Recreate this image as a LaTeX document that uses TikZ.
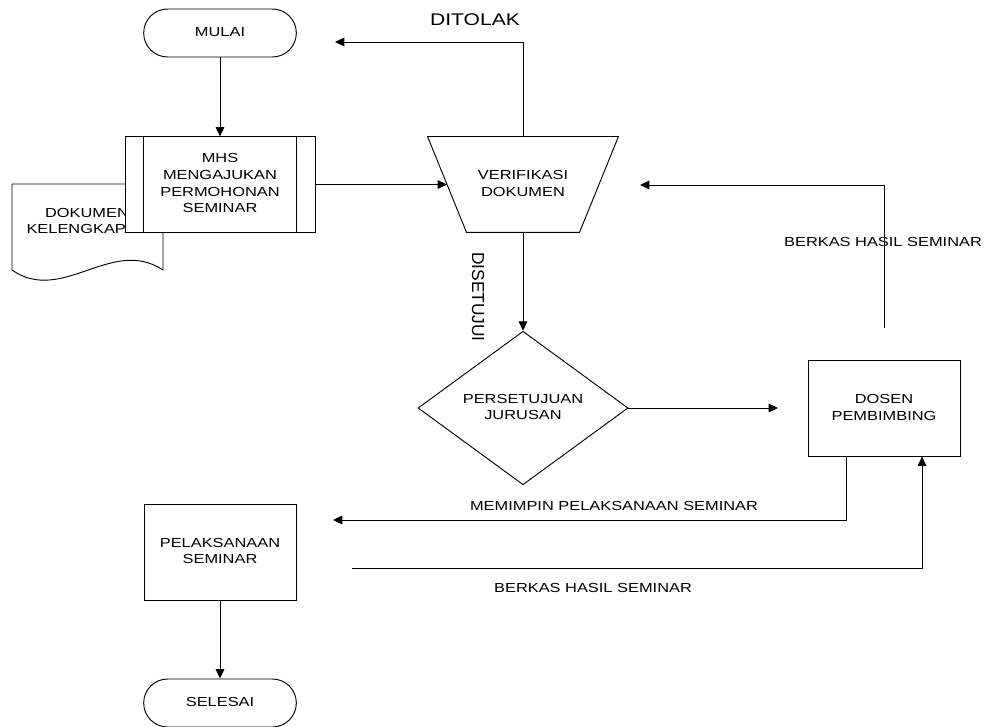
\documentclass[tikz,border=0pt]{standalone}
\usepackage{fontspec}
\usepackage{graphicx}
\setmainfont{Liberation Sans}
\usetikzlibrary{shapes.geometric,shapes.misc,arrows.meta}
\newcommand\lbl[1]{\scalebox{1}[0.8]{\begin{tabular}{@{}c@{}}#1\end{tabular}}}
\begin{document}
\begin{tikzpicture}[x=0.75pt,y=-0.75pt,
  font=\fontsize{12.3}{15.6}\selectfont,
  line width=0.7pt,
  arr/.style={-{Triangle[length=7pt,width=6.5pt]}},
  term/.style={rounded rectangle,draw,fill=white,inner sep=0pt,minimum width=114.5pt,minimum height=36pt},
  procbox/.style={rectangle,draw,fill=white,inner sep=0pt,minimum width=114pt,minimum height=71.5pt},
  plain/.style={inner sep=0pt}]
\useasboundingbox (0,0) rectangle (988,727);

% document shape (behind the MHS box)
\draw[fill=white] (12,270) -- (12,184) -- (163,184) -- (163,270)
  .. controls (112,236) and (62,305) .. (12,270) -- cycle;
\node[plain] (doc) at (87,222) {\lbl{DOKUMEN\\KELENGKAPAN}};

% nodes
\node[term] (mulai) at (220,33) {\lbl{MULAI}};
\node[procbox,minimum width=142.5pt] (mhs) at (220,184.5) {\lbl{MHS\\MENGAJUKAN\\PERMOHONAN\\SEMINAR}};
\draw ([xshift=14.25pt]mhs.north west) -- ([xshift=14.25pt]mhs.south west);
\draw ([xshift=-14.25pt]mhs.north east) -- ([xshift=-14.25pt]mhs.south east);

\node[plain,minimum width=142.5pt,minimum height=71.25pt] (verif) at (523,184.5) {};
\draw (verif.north west) -- (verif.north east) -- ([xshift=-29.25pt]verif.south east)
  -- ([xshift=29.25pt]verif.south west) -- cycle;
\node[plain] (veriftext) at (verif.center) {\lbl{VERIFIKASI\\DOKUMEN}};

\node[diamond,draw,fill=white,inner sep=0pt,minimum width=157.5pt,minimum height=90pt] (setuju) at (523,408) {\lbl{PERSETUJUAN\\JURUSAN}};

\node[procbox] (dosen) at (884,408.5) {\lbl{DOSEN\\PEMBIMBING}};
\node[procbox,minimum height=72pt] (pelaks) at (220,552) {\lbl{PELAKSANAAN\\SEMINAR}};
\node[term] (selesai) at (220,703) {\lbl{SELESAI}};

% free ends
\coordinate (ditolakEnd) at (335,42);
\coordinate (toDosen) at (778,408);
\coordinate (berkasStart) at (884,328);
\coordinate (berkasEnd) at (640,185);
\coordinate (memimpinEnd) at (333,520);
\coordinate (berkas2Start) at (352,568);

% connectors
\draw[arr] (mulai.south) -- (mhs.north);
\draw[arr] (mhs.east) -- ([xshift=14.6pt]verif.west);
\draw[arr] (verif.north) |- (ditolakEnd);
\draw[arr] (verif.south) -- (setuju.north);
\draw[arr] (setuju.east) -- (toDosen);
\draw[arr] (berkasStart) |- (berkasEnd);
\draw[arr] ([xshift=-28.5pt]dosen.south) |- (memimpinEnd);
\draw[arr] (berkas2Start) -| ([xshift=28.5pt]dosen.south);
\draw[arr] (pelaks.south) -- (selesai.north);

% labels
\node[plain,font=\fontsize{15.8}{18}\selectfont] (ditolak) at (475,22) {\lbl{DITOLAK}};
\node[plain,font=\fontsize{13}{15}\selectfont,rotate=-90] (disetujui) at (478,297) {DISETUJUI};
\node[plain] (berkas1) at (883,243) {\lbl{BERKAS HASIL SEMINAR}};
\node[plain] (memimpin) at (614,507) {\lbl{MEMIMPIN PELAKSANAAN SEMINAR}};
\node[plain] (berkas2) at (593,589) {\lbl{BERKAS HASIL SEMINAR}};
\end{tikzpicture}
\end{document}
